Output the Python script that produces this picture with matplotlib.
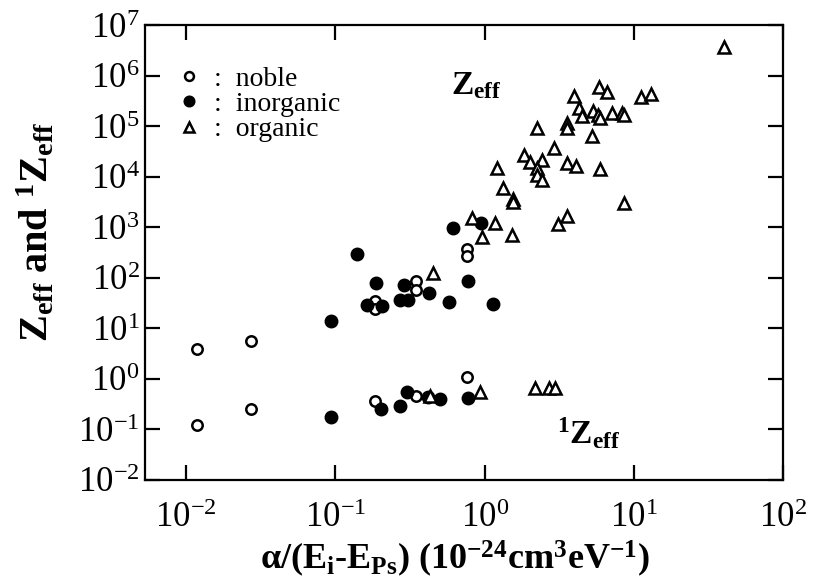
import matplotlib
matplotlib.use("Agg")
import matplotlib.pyplot as plt
from matplotlib.ticker import LogLocator, NullLocator

plt.rcParams['font.family'] = 'Liberation Serif'
plt.rcParams['mathtext.fontset'] = 'custom'
plt.rcParams['mathtext.rm'] = 'Liberation Serif'
plt.rcParams['mathtext.it'] = 'Liberation Serif:italic'
plt.rcParams['mathtext.bf'] = 'Liberation Serif:bold'

# Zeff and 1Zeff vs alpha/(Ei-EPs)
noble_x = [0.0119, 0.0272, 0.184, 0.184, 0.345, 0.345, 0.758, 0.758]
noble_z = [3.94, 5.68, 35.3, 24.5, 88, 58, 380, 276]
noble_x1 = [0.0119, 0.0272, 0.184, 0.345, 0.758]
noble_z1 = [0.122, 0.254, 0.366, 0.460, 1.10]

inorg_x = [0.0933, 0.139, 0.187, 0.162, 0.205, 0.270, 0.305, 0.287,
           0.422, 0.574, 0.611, 0.770, 0.940, 1.13]
inorg_z = [14.2, 302, 80, 29.4, 28.1, 36.9, 36.9, 73.3,
           50.9, 33.7, 991, 88, 1190, 30.8]
inorg_x1 = [0.0933, 0.201, 0.270, 0.301, 0.416, 0.500, 0.770]
inorg_z1 = [0.176, 0.254, 0.291, 0.552, 0.44, 0.401, 0.42]

org_x = [0.449, 0.819, 1.17, 0.955, 1.52, 1.22, 1.32, 1.54, 1.54,
         1.85, 2.00, 2.41, 2.23, 2.26, 2.41, 2.23, 2.90, 3.08, 3.54,
         3.59, 3.59, 3.54, 4.12, 3.94, 4.32, 4.46, 5.36, 5.79, 5.97,
         5.28, 5.97, 5.88, 6.65, 7.18, 8.38, 8.64, 8.64, 11.2, 13.1, 40.3]
org_z = [127, 1495, 1190, 657, 720, 14700, 5890, 3560, 3100,
         26600, 19300, 21100, 14700, 10700, 8490, 91300, 36600, 1137, 1640,
         114800, 91300, 18400, 16100, 394000, 228000, 158000, 199000, 165000, 144000,
         63300, 14000, 594000, 473000, 181000, 181000, 165000, 2970, 376000, 431000, 3.69e6]
org_x1 = [0.429, 0.926, 2.16, 2.72, 2.94]
org_z1 = [0.460, 0.552, 0.663, 0.663, 0.663]

fig = plt.figure(figsize=(8.15, 5.86), dpi=100)
ax = fig.add_axes([0.178, 0.181, 0.783, 0.776])

ax.plot(noble_x, noble_z, 'o', ms=7.5, mfc='white', mec='black', mew=1.8, ls='none',
        label=':  noble')
ax.plot(noble_x1, noble_z1, 'o', ms=7.5, mfc='white', mec='black', mew=1.8, ls='none')
ax.plot(inorg_x, inorg_z, 'o', ms=9, color='black', ls='none', label=':  inorganic')
ax.plot(inorg_x1, inorg_z1, 'o', ms=9, color='black', ls='none')
ax.plot(org_x, org_z, '^', ms=8, mfc='white', mec='black', mew=1.8, ls='none',
        label=':  organic')
ax.plot(org_x1, org_z1, '^', ms=8, mfc='white', mec='black', mew=1.8, ls='none')

ax.set_xscale('log')
ax.set_yscale('log')
ax.set_xlim(0.00532, 100)
ax.set_ylim(1e-2, 1e7)
ax.xaxis.set_major_locator(LogLocator(base=10, numticks=10))
ax.yaxis.set_major_locator(LogLocator(base=10, numticks=12))
ax.xaxis.set_minor_locator(NullLocator())
ax.yaxis.set_minor_locator(NullLocator())
ax.tick_params(which='major', direction='in', length=11, width=1.6,
               top=True, right=True, labelsize=25)
ax.tick_params(axis='x', pad=16)
ax.tick_params(axis='y', pad=4)
for s in ax.spines.values():
    s.set_linewidth(1.6)

ax.set_xlabel(r'α/(E$_\mathbf{i}$-E$_\mathbf{Ps}$) (10$^\mathbf{-24}$cm$^\mathbf{3}$eV$^\mathbf{-1}$)',
              fontsize=26, fontweight='bold')
ax.xaxis.set_label_coords(0.485, -0.128)
ax.set_ylabel(r'Z$_\mathbf{eff}$ and $^\mathbf{1}$Z$_\mathbf{eff}$',
              fontsize=29, fontweight='bold')
ax.yaxis.set_label_coords(-0.137, 0.545)

ax.text(0.480, 0.868, r'Z$_\mathbf{eff}$', transform=ax.transAxes,
        fontsize=24, fontweight='bold', ha='left', va='center')
ax.text(0.645, 0.103, r'$^\mathbf{1}$Z$_\mathbf{eff}$', transform=ax.transAxes,
        fontsize=24, fontweight='bold', ha='left', va='center')

ax.legend(loc='upper left', bbox_to_anchor=(0.055, 0.91), frameon=False,
          fontsize=20, handlelength=0.6, handletextpad=0.6, labelspacing=0.0,
          borderpad=0, borderaxespad=0, markerscale=0.85)

fig.savefig('out.png', dpi=100)
